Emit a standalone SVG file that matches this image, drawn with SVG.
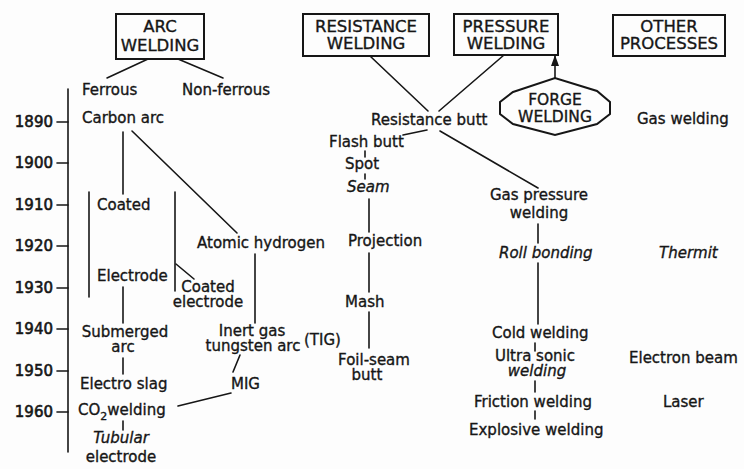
<svg xmlns="http://www.w3.org/2000/svg" width="744" height="469" viewBox="0 0 744 469">
  <style>
    text { font-family: "DejaVu Sans", "Liberation Sans", sans-serif; font-size: 15px; fill: #161616; stroke: #161616; stroke-width: 0.35px; }
    .box text { font-size: 16.5px; text-anchor: middle; }
    .c { text-anchor: middle; }
    .i { font-style: italic; }
    .sm { font-size: 14px; }
    .yr { font-size: 15px; text-anchor: end; stroke-width: 0.6px; }
    .frame { fill: none; stroke: #161616; stroke-width: 2; }
    .ln { fill: none; stroke: #161616; stroke-width: 1.6; stroke-linecap: round; }
  </style>
  <defs>
    <marker id="arrow" viewBox="0 0 11 8" refX="10" refY="4" markerWidth="11" markerHeight="8" markerUnits="userSpaceOnUse" orient="auto">
      <path d="M0,0 L11,4 L0,8 Z" fill="#161616"/>
    </marker>
  </defs>
  <rect x="0" y="0" width="744" height="469" fill="#fdfdfd"/>

  <!-- time axis -->
  <g id="axis">
    <line class="ln" x1="68" y1="89" x2="68" y2="452"/>
    <g class="ln">
      <line x1="57" y1="122" x2="68" y2="122"/>
      <line x1="57" y1="163" x2="68" y2="163"/>
      <line x1="57" y1="205" x2="68" y2="205"/>
      <line x1="57" y1="246" x2="68" y2="246"/>
      <line x1="57" y1="288" x2="68" y2="288"/>
      <line x1="57" y1="329" x2="68" y2="329"/>
      <line x1="57" y1="371" x2="68" y2="371"/>
      <line x1="57" y1="412" x2="68" y2="412"/>
    </g>
    <text class="yr" x="53" y="127">1890</text>
    <text class="yr" x="53" y="168">1900</text>
    <text class="yr" x="53" y="210">1910</text>
    <text class="yr" x="53" y="251">1920</text>
    <text class="yr" x="53" y="293">1930</text>
    <text class="yr" x="53" y="334">1940</text>
    <text class="yr" x="53" y="376">1950</text>
    <text class="yr" x="53" y="417">1960</text>
  </g>

  <!-- process family headings -->
  <g id="arc-welding" class="box">
    <rect class="frame" x="116" y="14" width="88" height="45"/>
    <text x="160" y="32">ARC</text>
    <text x="160" y="51">WELDING</text>
  </g>
  <g id="resistance-welding" class="box">
    <rect class="frame" x="303" y="14" width="126" height="42"/>
    <text x="366" y="32">RESISTANCE</text>
    <text x="366" y="49">WELDING</text>
  </g>
  <g id="pressure-welding" class="box">
    <rect class="frame" x="454" y="14" width="104" height="41"/>
    <text x="506" y="32">PRESSURE</text>
    <text x="506" y="49">WELDING</text>
  </g>
  <g id="other-processes" class="box">
    <rect class="frame" x="613" y="15" width="112" height="41"/>
    <text x="669" y="32">OTHER</text>
    <text x="669" y="49">PROCESSES</text>
  </g>
  <g id="forge-welding" class="box">
    <polygon class="frame" points="513,92 555,78 597,91 610,102 610,114 597,124 555,135 513,124 500,114 500,102"/>
    <text x="555" y="105" style="font-size:15.5px">FORGE</text>
    <text x="555" y="122" style="font-size:15.5px">WELDING</text>
  </g>

  <!-- arc welding processes -->
  <g id="ferrous"><text x="82" y="95">Ferrous</text></g>
  <g id="non-ferrous"><text x="182" y="95">Non-ferrous</text></g>
  <g id="carbon-arc"><text x="82" y="123">Carbon arc</text></g>
  <g id="coated"><text x="97" y="210">Coated</text></g>
  <g id="electrode"><text x="97" y="281">Electrode</text></g>
  <g id="coated-electrode">
    <text class="c" x="208" y="292">Coated</text>
    <text class="c" x="208" y="307">electrode</text>
  </g>
  <g id="atomic-hydrogen"><text x="197" y="248">Atomic hydrogen</text></g>
  <g id="submerged-arc">
    <text class="c" x="125" y="337">Submerged</text>
    <text class="c" x="123" y="352">arc</text>
  </g>
  <g id="inert-gas-tig">
    <text class="c" x="252" y="336">Inert gas</text>
    <text class="c" x="253" y="351">tungsten arc</text>
    <text x="304" y="345">(TIG)</text>
  </g>
  <g id="electro-slag"><text x="80" y="389">Electro slag</text></g>
  <g id="mig"><text x="231" y="389">MIG</text></g>
  <g id="co2-welding"><text x="78" y="415">CO<tspan dy="5" font-size="11">2</tspan><tspan dy="-5">welding</tspan></text></g>
  <g id="tubular-electrode">
    <text class="c i" x="121" y="443">Tubular</text>
    <text class="c" x="121" y="462">electrode</text>
  </g>

  <!-- resistance welding processes -->
  <g id="resistance-butt"><text x="371" y="125">Resistance butt</text></g>
  <g id="flash-butt"><text x="329" y="147">Flash butt</text></g>
  <g id="spot"><text x="345" y="169">Spot</text></g>
  <g id="seam"><text class="i" x="347" y="192">Seam</text></g>
  <g id="projection"><text x="348" y="246">Projection</text></g>
  <g id="mash"><text x="345" y="307">Mash</text></g>
  <g id="foil-seam-butt">
    <text class="c" x="374" y="365">Foil-seam</text>
    <text class="c" x="367" y="380">butt</text>
  </g>

  <!-- pressure welding processes -->
  <g id="gas-pressure-welding">
    <text class="c" x="539" y="200">Gas pressure</text>
    <text class="c" x="539" y="218">welding</text>
  </g>
  <g id="roll-bonding"><text class="i" x="499" y="258">Roll bonding</text></g>
  <g id="cold-welding"><text x="492" y="338">Cold welding</text></g>
  <g id="ultrasonic-welding">
    <text class="c" x="535" y="361">Ultra sonic</text>
    <text class="c i" x="537" y="376">welding</text>
  </g>
  <g id="friction-welding"><text x="474" y="407">Friction welding</text></g>
  <g id="explosive-welding"><text x="469" y="435">Explosive welding</text></g>

  <!-- other processes -->
  <g id="gas-welding"><text x="637" y="124">Gas welding</text></g>
  <g id="thermit"><text class="i" x="659" y="258">Thermit</text></g>
  <g id="electron-beam"><text x="629" y="363">Electron beam</text></g>
  <g id="laser"><text x="663" y="407">Laser</text></g>

  <!-- connectors -->
  <g id="connectors" class="ln">
    <line x1="148" y1="59" x2="107" y2="78"/>
    <line x1="178" y1="59" x2="223" y2="78"/>
    <line x1="123" y1="132" x2="123" y2="194"/>
    <line x1="132" y1="131" x2="237" y2="233"/>
    <line x1="89" y1="192" x2="89" y2="297"/>
    <line x1="175" y1="192" x2="175" y2="291"/>
    <line x1="176" y1="264" x2="194" y2="279"/>
    <line x1="123" y1="287" x2="123" y2="323"/>
    <line x1="255" y1="254" x2="255" y2="323"/>
    <line x1="123" y1="358" x2="123" y2="374"/>
    <line x1="240" y1="355" x2="233" y2="372"/>
    <line x1="178" y1="406" x2="231" y2="393"/>
    <line x1="123" y1="421" x2="123" y2="430"/>

    <line x1="370" y1="56" x2="428" y2="111"/>
    <line x1="504" y1="55" x2="439" y2="111"/>
    <line x1="427" y1="130" x2="403" y2="135"/>
    <line x1="440" y1="131" x2="538" y2="188"/>
    <line x1="365" y1="151" x2="365" y2="157"/>
    <line x1="365" y1="174" x2="365" y2="179"/>
    <line x1="369" y1="199" x2="369" y2="232"/>
    <line x1="369" y1="253" x2="369" y2="292"/>
    <line x1="369" y1="312" x2="369" y2="348"/>

    <line x1="538" y1="224" x2="538" y2="243"/>
    <line x1="538" y1="263" x2="538" y2="324"/>
    <line x1="535" y1="343" x2="535" y2="351"/>
    <line x1="535" y1="381" x2="535" y2="392"/>
    <line x1="535" y1="411" x2="535" y2="419"/>

    <line x1="555" y1="78" x2="555" y2="56" marker-end="url(#arrow)"/>
  </g>
</svg>
